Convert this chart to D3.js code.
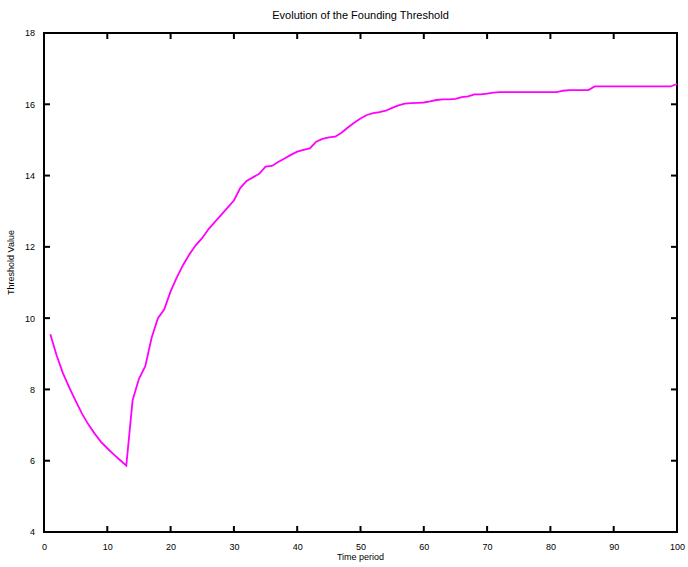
<!DOCTYPE html>
<html>
<head>
<meta charset="utf-8">
<script src="https://cdn.jsdelivr.net/npm/d3@7"></script>
<style>
  html, body { margin: 0; padding: 0; background: #fff; }
  svg { display: block; }
  text { font-family: "Liberation Sans", Arial, sans-serif; fill: #000; }
</style>
</head>
<body>
<svg id="chart" width="688" height="567"></svg>
<script>
// Time periods 1..100 and the threshold value at each period
const periods = d3.range(1, 101);
const thresholdValues = [
  9.55, 8.95, 8.45, 8.05, 7.68, 7.32, 7.02, 6.76, 6.53, 6.35,
  6.18, 6.02, 5.86, 7.70, 8.30, 8.65, 9.45, 10.00, 10.25, 10.75,
  11.15, 11.50, 11.80, 12.05, 12.25, 12.50, 12.70, 12.90, 13.10, 13.30,
  13.65, 13.85, 13.95, 14.05, 14.25, 14.27, 14.38, 14.48, 14.58, 14.67,
  14.72, 14.76, 14.95, 15.03, 15.07, 15.09, 15.20, 15.35, 15.48, 15.60,
  15.70, 15.75, 15.78, 15.82, 15.90, 15.97, 16.02, 16.03, 16.04, 16.05,
  16.08, 16.12, 16.14, 16.14, 16.15, 16.20, 16.22, 16.28, 16.28, 16.30,
  16.33, 16.34, 16.34, 16.34, 16.34, 16.34, 16.34, 16.34, 16.34, 16.34,
  16.34, 16.38, 16.40, 16.40, 16.40, 16.40, 16.50, 16.50, 16.50, 16.50,
  16.50, 16.50, 16.50, 16.50, 16.50, 16.50, 16.50, 16.50, 16.50, 16.57
];
const xTicks = [0, 10, 20, 30, 40, 50, 60, 70, 80, 90, 100];
const yTicks = [4, 6, 8, 10, 12, 14, 16, 18];

const titleText = "Evolution of the Founding Threshold";
const xLabelText = "Time period";
const yLabelText = "Threshold Value";

const svg = d3.select("#chart");
const margin = { left: 44, right: 11, top: 33, bottom: 35 };
const W = 688, H = 567;
const plotW = W - margin.left - margin.right;
const plotH = H - margin.top - margin.bottom;

const x = d3.scaleLinear().domain([0, 100]).range([0, plotW]);
const y = d3.scaleLinear().domain([4, 18]).range([plotH, 0]);

const g = svg.append("g").attr("transform", `translate(${margin.left},${margin.top})`);

// Tick labels from the axis generators (tick lines drawn separately below)
const axisStyle = sel => {
  sel.select(".domain").remove();
  sel.selectAll("line").remove();
  sel.selectAll("text").attr("font-size", 9).attr("fill", "#000");
};
g.append("g").attr("transform", `translate(0,${plotH})`)
  .call(d3.axisBottom(x).tickValues(xTicks).tickSize(0).tickPadding(12))
  .call(axisStyle);
g.append("g")
  .call(d3.axisLeft(y).tickValues(yTicks).tickSize(0).tickPadding(9))
  .call(axisStyle);

// Inward tick marks on all four sides of the box
const tickLen = 6;
const ticks = g.append("g").attr("stroke", "#000").attr("stroke-width", 2);
ticks.selectAll("line.xb").data(xTicks).join("line").attr("class", "xb")
  .attr("x1", d => x(d)).attr("x2", d => x(d))
  .attr("y1", plotH).attr("y2", plotH - tickLen);
ticks.selectAll("line.xt").data(xTicks).join("line").attr("class", "xt")
  .attr("x1", d => x(d)).attr("x2", d => x(d))
  .attr("y1", 0).attr("y2", tickLen);
ticks.selectAll("line.yl").data(yTicks).join("line").attr("class", "yl")
  .attr("x1", 0).attr("x2", tickLen)
  .attr("y1", d => y(d)).attr("y2", d => y(d));
ticks.selectAll("line.yr").data(yTicks).join("line").attr("class", "yr")
  .attr("x1", plotW).attr("x2", plotW - tickLen)
  .attr("y1", d => y(d)).attr("y2", d => y(d));

// Box frame
g.append("rect")
  .attr("x", 0).attr("y", 0).attr("width", plotW).attr("height", plotH)
  .attr("fill", "none").attr("stroke", "#000").attr("stroke-width", 2);

// Threshold series
const line = d3.line()
  .x((d, i) => x(periods[i]))
  .y(d => y(d));
g.append("path")
  .datum(thresholdValues)
  .attr("fill", "none")
  .attr("stroke", "#ff00ff")
  .attr("stroke-width", 1.8)
  .attr("d", line);

// Title and axis labels
svg.append("text")
  .attr("x", margin.left + plotW / 2).attr("y", 19)
  .attr("text-anchor", "middle").attr("font-size", 11)
  .text(titleText);
svg.append("text")
  .attr("x", margin.left + plotW / 2).attr("y", 560)
  .attr("text-anchor", "middle").attr("font-size", 9)
  .text(xLabelText);
svg.append("text")
  .attr("transform", `translate(14,${margin.top + plotH / 2 - 20}) rotate(-90)`)
  .attr("text-anchor", "middle").attr("font-size", 9)
  .text(yLabelText);
</script>
</body>
</html>
